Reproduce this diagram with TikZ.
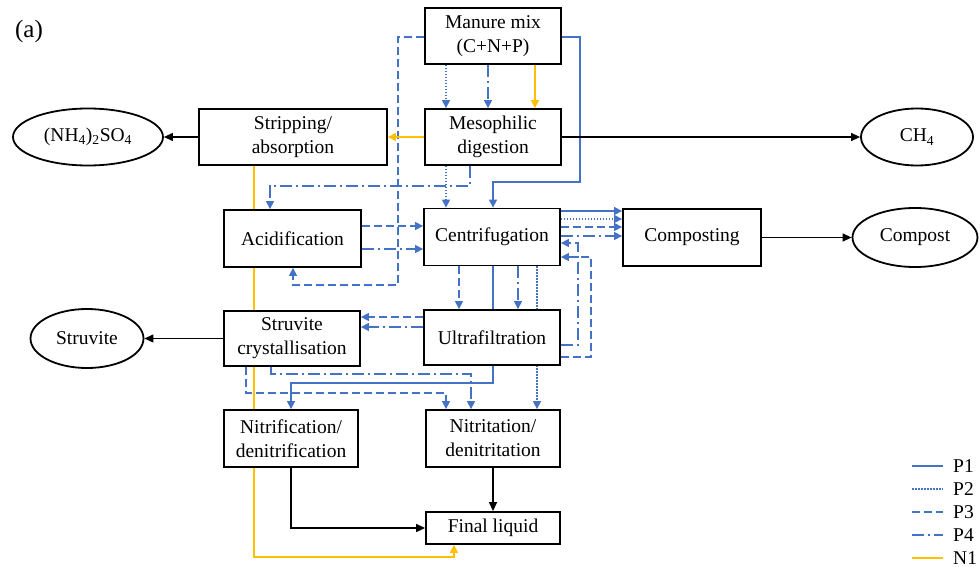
\documentclass[tikz,border=0pt]{standalone}
\usepackage{fontspec}
\setmainfont{Liberation Serif}
\usetikzlibrary{arrows.meta,backgrounds,shapes.geometric}
\definecolor{pblue}{HTML}{4472C4}
\definecolor{nyel}{HTML}{FFC000}
\begin{document}
\begin{tikzpicture}[x=1pt,y=-1pt,
  box/.style={draw,line width=1.8pt,fill=white,minimum width=#1,minimum height=56pt,inner sep=0pt,align=center,font=\fontsize{19.5}{24}\selectfont},
  oval/.style={draw,ellipse,line width=1.8pt,fill=white,inner sep=0pt,font=\fontsize{19.5}{24}\selectfont},
  conn/.style={line width=1.4pt},
  btip/.style={-{Triangle[length=8pt,width=8pt]}},
  ktip/.style={-{Triangle[length=9pt,width=8pt]}},
  pone/.style={conn,pblue},
  ptwo/.style={conn,pblue,dash pattern=on 1.5pt off 1.5pt},
  pthree/.style={conn,pblue,dash pattern=on 8pt off 4pt},
  pfour/.style={conn,pblue,dash pattern=on 12pt off 4pt on 2pt off 4pt},
  none/.style={conn,nyel},
  blk/.style={line width=1.2pt,black,ktip},
  leg/.style={font=\fontsize{19.5}{24}\selectfont,anchor=west,inner sep=0pt}
]
\useasboundingbox (0,0) rectangle (980,567);
\node[box=136pt] (manure) at (493,36) {Manure mix\\(C+N+P)};
\node[box=136pt] (meso) at (493,137) {Mesophilic\\digestion};
\node[box=188pt] (strip) at (293,137) {Stripping/\\absorption};
\node[box=137pt,minimum height=57pt] (acid) at (292.5,238.5) {Acidification};
\node[box=136pt,minimum height=57pt] (centr) at (492,237) {Centrifugation};
\node[box=138pt,minimum height=57pt] (comp) at (692,237.5) {Composting};
\node[box=136pt,minimum height=55pt] (ultra) at (492,337.5) {Ultrafiltration};
\node[box=136pt,minimum height=55pt] (struv) at (292,338.5) {Struvite\\crystallisation};
\node[box=134pt,minimum height=57pt] (nitrif) at (291,438.5) {Nitrification/\\denitrification};
\node[box=134pt,minimum height=57pt] (nitrit) at (493,438.5) {Nitritation/\\denitritation};
\node[box=134pt,minimum height=32pt] (final) at (493,528) {Final liquid};
\node[oval,minimum width=150pt,minimum height=57pt] (nh4) at (88,137) {(NH\textsubscript{4})\textsubscript{2}SO\textsubscript{4}};
\node[oval,minimum width=112pt,minimum height=57pt] (ch4) at (917,137) {CH\textsubscript{4}};
\node[oval,minimum width=125pt,minimum height=59pt] (compost) at (915,237.5) {Compost};
\node[oval,minimum width=113pt,minimum height=59pt] (struvite) at (87,338.5) {Struvite};
\node[font=\fontsize{25}{28}\selectfont,inner sep=0pt] (lab) at (29,31) {(a)};

\begin{scope}[on background layer]
% P2 dotted
\draw[ptwo,btip] (manure.south -| 446,0) -- (meso.north -| 446,0);
\draw[ptwo,btip] (meso.south -| 446,0) -- (centr.north -| 446,0);
\draw[ptwo,btip] (centr.east |- 0,219) -- (comp.west |- 0,219);
\draw[ptwo,btip] (centr.south -| 537,0) -- (nitrit.north -| 537,0);
% P4 dash-dot
\draw[pfour,btip] (manure.south -| 488,0) -- (meso.north -| 488,0);
\draw[pfour,btip] (meso.south -| 470,0) -- (470,186) -- (270,186) -- (acid.north -| 270,0);
\draw[pfour,btip] (acid.east |- 0,249) -- (centr.west |- 0,249);
\draw[pfour,btip] (centr.east |- 0,236) -- (comp.west |- 0,236);
\draw[pfour,btip] (centr.south -| 518,0) -- (ultra.north -| 518,0);
\draw[pfour,btip] (ultra.east |- 0,345) -- (578,345) -- (578,243) -- (centr.east |- 0,243);
\draw[pfour,btip] (ultra.west |- 0,327) -- (struv.east |- 0,327);
\draw[pfour,btip] (struv.south -| 271,0) -- (271,374) -- (471,374) -- (nitrit.north -| 471,0);
% P3 dashed
\draw[pthree,btip] (manure.west |- 0,37) -- (398,37) -- (398,285) -- (293,285) -- (acid.south -| 293,0);
\draw[pthree,btip] (acid.east |- 0,226) -- (centr.west |- 0,226);
\draw[pthree,btip] (centr.east |- 0,227) -- (comp.west |- 0,227);
\draw[pthree,btip] (centr.south -| 459,0) -- (ultra.north -| 459,0);
\draw[pthree,btip] (ultra.east |- 0,357) -- (591,357) -- (591,257) -- (centr.east |- 0,257);
\draw[pthree,btip] (ultra.west |- 0,317) -- (struv.east |- 0,317);
\draw[pthree,btip] (struv.south -| 246,0) -- (246,393) -- (446,393) -- (nitrit.north -| 446,0);
% P1 solid
\draw[pone,btip] (manure.east |- 0,37) -- (580,37) -- (580,182) -- (493,182) -- (centr.north -| 493,0);
\draw[pone,btip] (centr.east |- 0,211) -- (comp.west |- 0,211);
\draw[pone,btip] (centr.south -| 493,0) -- (493,383) -- (291,383) -- (nitrif.north -| 291,0);
% N1 yellow
\draw[none,btip] (manure.south -| 535,0) -- (meso.north -| 535,0);
\draw[none,btip] (meso.west) -- (strip.east);
\draw[none,btip] (strip.south -| 254,0) -- (254,557) -- (454,557) -- (final.south -| 454,0);
% black
\draw[blk] (strip.west) -- (nh4.east);
\draw[blk] (meso.east) -- (ch4.west);
\draw[blk] (comp.east) -- (compost.west);
\draw[blk] (struv.west |- struvite.east) -- (struvite.east);
\draw[blk] (nitrif.south -| 291,0) -- (291,528) -- (final.west);
\draw[blk] (nitrit.south -| 493,0) -- (final.north -| 493,0);
\end{scope}

% legend
\node[leg] (l1) at (953,466) {P1};
\node[leg] (l2) at (953,489) {P2};
\node[leg] (l3) at (953,512) {P3};
\node[leg] (l4) at (953,535) {P4};
\node[leg] (l5) at (953,558) {N1};
\coordinate (s1) at (912,466);
\coordinate (s2) at (912,489);
\coordinate (s3) at (912,512);
\coordinate (s4) at (912,535);
\coordinate (s5) at (912,558);
\draw[pone] (s1) -- ++(31,0);
\draw[ptwo] (s2) -- ++(31,0);
\draw[pthree] (s3) -- ++(31,0);
\draw[pfour] (s4) -- ++(31,0);
\draw[none] (s5) -- ++(31,0);
\end{tikzpicture}
\end{document}
